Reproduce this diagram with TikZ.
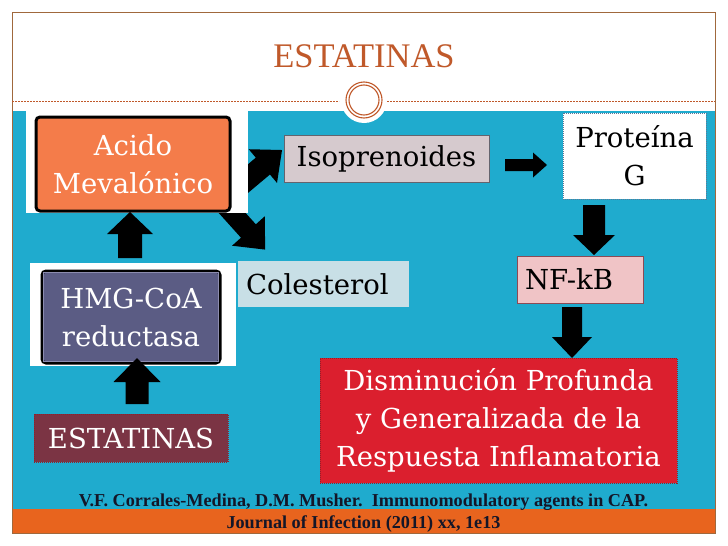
\documentclass[tikz,border=0pt]{standalone}
\usepackage{fontspec}
\setmainfont{Liberation Serif}
\newfontfamily\boxfont{DejaVu Serif}
\definecolor{cblue}{RGB}{31,171,206}
\definecolor{corange}{RGB}{232,100,30}
\definecolor{cframe}{RGB}{160,104,60}
\definecolor{ctitle}{RGB}{192,89,42}
\definecolor{cacido}{RGB}{244,124,74}
\definecolor{ciso}{RGB}{214,202,206}
\definecolor{cisob}{RGB}{100,100,110}
\definecolor{cprotb}{RGB}{90,120,150}
\definecolor{ccol}{RGB}{200,223,230}
\definecolor{cnf}{RGB}{240,196,198}
\definecolor{cnfb}{RGB}{140,74,85}
\definecolor{cdism}{RGB}{219,31,46}
\definecolor{cdismb}{RGB}{150,30,40}
\definecolor{chmg}{RGB}{91,92,132}
\definecolor{chmgin}{RGB}{140,140,175}
\definecolor{cest}{RGB}{123,52,68}
\definecolor{cfoot}{RGB}{20,22,40}
\newcommand{\blockarrow}[7]{%
  \fill[black, shift={(#1,#2)}, rotate=#3] (0,-#5/2) -- ({#4-#7},-#5/2) -- ({#4-#7},-#6/2) -- (#4,0) -- ({#4-#7},#6/2) -- ({#4-#7},#5/2) -- (0,#5/2) -- cycle;}
\begin{document}
\begin{tikzpicture}[x=1pt,y=-1pt,
  box/.style={inner sep=0pt, align=center, font=\boxfont\fontsize{27.5}{38}\selectfont},
  reftext/.style={anchor=base, text=cfoot, font=\bfseries\fontsize{18.2}{20}\selectfont}]
\useasboundingbox (0,0) rectangle (728,546);
\fill[white] (0,0) rectangle (728,546);
% background
\fill[cblue] (12,111) rectangle (715,509);
\fill[corange] (12,509) rectangle (715,533);
\draw[cframe, line width=0.8pt] (12,12) rectangle (715,533);
\draw[ctitle, dash pattern=on 2pt off 1pt, line width=0.6pt] (12,101) -- (339,101);
\draw[ctitle, dash pattern=on 2pt off 1pt, line width=0.6pt] (387,101) -- (715,101);
\fill[white] (364,100) circle[radius=23pt];
\draw[ctitle, line width=1.1pt] (364,100) circle[radius=18pt];
\draw[ctitle, line width=1.1pt] (364,100) circle[radius=15pt];
\node[anchor=base, text=ctitle, font=\fontsize{34.5}{40}\selectfont] (title) at (364,67) {ESTATINAS};
% diagonal arrows
\blockarrow{237.6}{187.3}{40}{58}{22}{44}{25}
\blockarrow{225}{205}{-48}{60}{20}{44}{25}
% white backgrounds
\fill[white] (26,110) rectangle (248,213);
\fill[white] (30,263) rectangle (236,366);
% nodes
\node[box, fill=cacido, draw=black, line width=3pt, rounded corners=4pt,
  minimum width=194pt, minimum height=94pt, text=white] (acido) at (133,164) {Acido\\Mevalónico};
\node[box, fill=ciso, draw=cisob, line width=0.8pt, minimum width=205pt, minimum height=47pt] (iso) at (386.5,158.5) {Isoprenoides};
\node[box, fill=white, draw=cprotb, dash pattern=on 1pt off 1pt, line width=0.6pt,
  minimum width=143pt, minimum height=86pt] (prot) at (634.5,156) {Proteína\\G};
\node[box, fill=ccol, minimum width=171pt, minimum height=46pt, text width=155pt, align=left] (col) at (323.5,284) {Colesterol};
\node[box, fill=cnf, draw=cnfb, line width=0.8pt, minimum width=126pt, minimum height=47pt, text width=110pt, align=left] (nf) at (580,279.5) {NF-kB};
\node[box, fill=cdism, draw=cdismb, dash pattern=on 1pt off 1pt, line width=0.6pt,
  minimum width=357pt, minimum height=125pt, text=white] (dism) at (498.5,420.5) {Disminución Profunda\\y Generalizada de la\\Respuesta Inflamatoria};
\node[box, fill=chmg, draw=black, line width=3pt, rounded corners=4pt,
  minimum width=178pt, minimum height=92pt, text=white] (hmg) at (131,317) {HMG-CoA\\reductasa};
\draw[chmgin, line width=0.8pt] ([shift={(3,3)}]hmg.north west) rectangle ([shift={(-3,-3)}]hmg.south east);
\node[box, fill=cest, draw=cdismb, dash pattern=on 1pt off 1pt, line width=0.6pt,
  minimum width=194pt, minimum height=48pt, text=white] (est) at (131,438) {ESTATINAS};
% straight block arrows
\blockarrow{130}{258}{90}{46}{24}{46}{22}
\blockarrow{137}{404}{90}{46}{23}{47}{24}
\blockarrow{505}{165}{0}{42}{12}{25}{14}
\blockarrow{594}{205}{-90}{50}{22}{42}{20}
\blockarrow{572}{307}{-90}{51}{20}{40}{21}
% footer
\node[reftext] (ref1) at (363.5,506) {V.F. Corrales-Medina, D.M. Musher.\ \ Immunomodulatory agents in CAP.};
\node[reftext] (ref2) at (363.5,528) {Journal of Infection (2011) xx, 1e13};
\end{tikzpicture}
\end{document}
